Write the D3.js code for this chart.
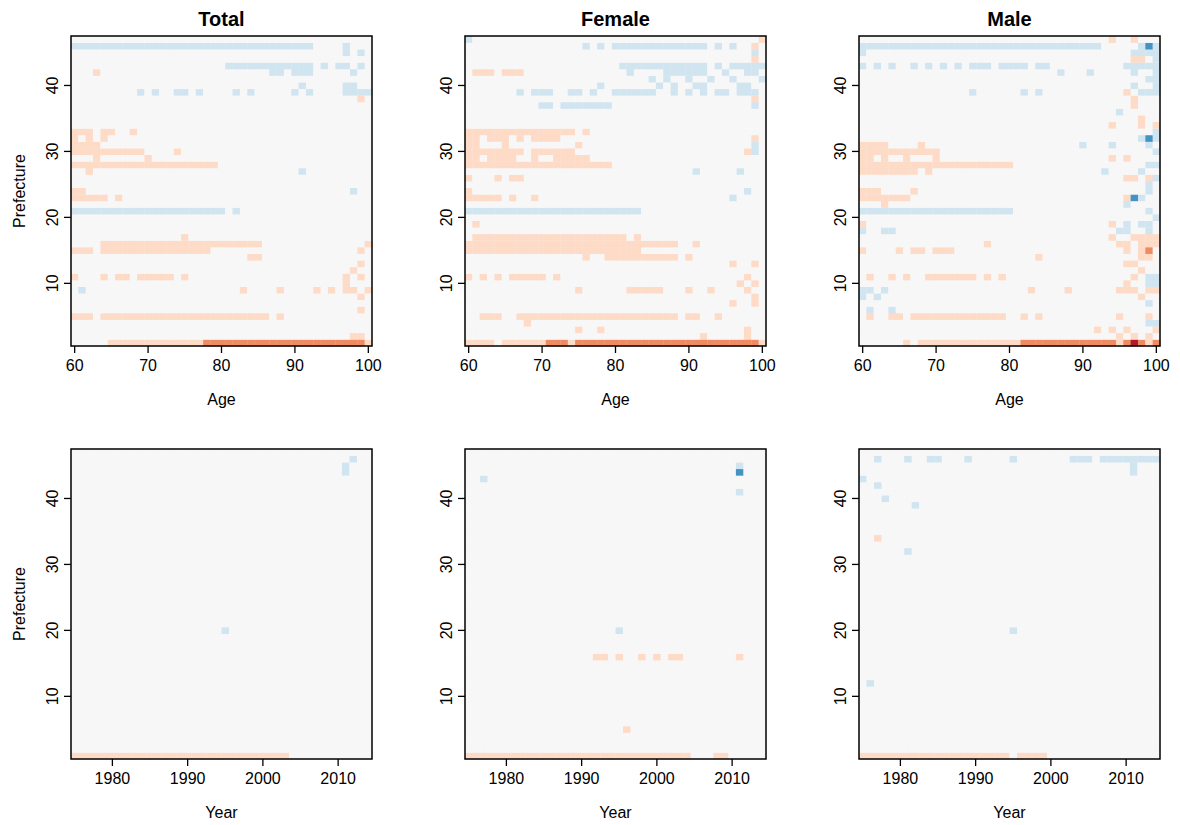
<!DOCTYPE html>
<html>
<head>
<meta charset="utf-8">
<script src="https://cdn.jsdelivr.net/npm/d3@7"></script>
<style>
  body { margin: 0; background: #fff; }
  svg text { font-family: "Liberation Sans", Arial, Helvetica, sans-serif; fill: #000; }
</style>
</head>
<body>
<svg id="chart" width="1180" height="825"></svg>
<script>
// axes values
const ages = d3.range(60, 101);
const years = d3.range(1975, 2015);
const prefectures = d3.range(1, 48);
const ageTicks = [60, 70, 80, 90, 100];
const yearTicks = [1980, 1990, 2000, 2010];
const prefTicks = [10, 20, 30, 40];
const titles = ["Total", "Female", "Male"];

// runs: [prefecture, from, to, level]  level >0 orange/red, <0 blue, 0 neutral
const totalAge = [
  [46,60,92,-1],[46,97,97,-1],[45,97,97,-1],[45,99,99,-1],
  [43,81,92,-1],[43,94,94,-1],[43,96,97,-1],[43,99,99,-1],
  [42,63,63,1],[42,87,88,-1],[42,90,92,-1],[42,98,98,-1],
  [40,91,91,-1],[40,97,98,-1],
  [39,69,69,-1],[39,71,71,-1],[39,74,75,-1],[39,77,77,-1],[39,82,82,-1],[39,84,84,-1],[39,90,90,-1],[39,92,92,-1],[39,97,100,-1],
  [38,99,99,1],
  [33,60,62,1],[33,64,65,1],[33,68,68,1],
  [32,60,60,1],[32,62,62,1],[32,64,64,1],
  [31,60,63,1],
  [30,60,69,1],[30,74,74,1],
  [29,63,63,1],[29,70,70,1],
  [28,60,79,1],
  [27,62,62,1],[27,91,91,-1],
  [24,60,61,1],[24,98,98,-1],
  [23,60,64,1],[23,66,66,1],
  [21,60,80,-1],[21,82,82,-1],
  [17,75,75,1],
  [16,64,85,1],[16,100,100,1],
  [15,60,62,1],[15,64,78,1],[15,99,99,1],
  [14,84,85,1],
  [13,99,99,1],[12,98,98,1],
  [11,60,60,1],[11,64,64,1],[11,66,67,1],[11,69,73,1],[11,75,75,1],[11,97,97,1],[11,99,99,1],
  [10,97,97,1],
  [9,61,61,-1],[9,83,83,1],[9,88,88,1],[9,93,93,1],[9,95,95,1],[9,97,98,1],[9,100,100,1],
  [8,99,99,1],[6,99,99,1],
  [5,60,62,1],[5,64,86,1],[5,88,88,1],
  [2,98,99,1],
  [1,65,77,1],[1,78,99,2],[1,100,100,1]
];

const femaleAge = [
  [47,60,60,-1],[47,100,100,1],
  [46,76,76,-1],[46,78,78,-1],[46,80,92,-1],[46,94,94,-1],[46,96,96,-1],[46,99,99,1],
  [45,99,99,-1],[44,99,99,1],
  [43,81,92,-1],[43,94,94,-1],[43,96,100,-1],
  [42,61,63,1],[42,65,67,1],[42,82,82,-1],[42,87,92,-1],[42,95,95,-1],[42,98,99,-1],
  [41,85,85,-1],[41,87,87,-1],[41,90,90,-1],[41,93,93,-1],[41,96,96,-1],[41,100,100,-1],
  [40,78,78,-1],[40,86,86,-1],[40,88,88,-1],[40,91,92,-1],[40,97,98,-1],
  [39,67,67,-1],[39,69,71,-1],[39,74,75,-1],[39,77,77,-1],[39,80,85,-1],[39,88,88,-1],[39,90,90,-1],[39,92,92,-1],[39,94,95,-1],[39,97,99,-1],
  [38,99,99,1],
  [37,70,71,-1],[37,73,79,-1],[37,99,99,-1],
  [33,60,74,1],[33,76,76,1],
  [32,60,61,1],[32,63,65,1],[32,67,67,1],[32,69,72,1],[32,99,99,1],
  [31,60,61,1],[31,65,65,1],[31,75,75,1],[31,99,99,-1],
  [30,60,67,1],[30,69,74,1],[30,98,98,1],[30,99,99,-1],
  [29,60,61,1],[29,63,66,1],[29,69,69,1],[29,72,76,1],
  [28,60,79,1],
  [27,91,91,-1],[27,97,97,-1],
  [26,60,60,1],[26,64,64,1],[26,66,67,1],
  [24,60,60,1],[24,98,98,-1],
  [23,60,64,1],[23,66,66,1],[23,69,69,1],[23,96,96,-1],
  [21,60,83,-1],
  [19,61,61,1],
  [17,61,81,1],[17,83,83,1],
  [16,60,88,1],[16,91,91,1],
  [15,60,83,1],
  [14,76,76,1],[14,79,88,1],[14,90,90,1],
  [13,96,96,1],[13,99,99,1],
  [11,60,60,1],[11,62,62,1],[11,64,64,1],[11,66,70,1],[11,72,72,1],[11,98,98,1],
  [10,97,97,1],[10,99,99,1],
  [9,75,75,1],[9,82,86,1],[9,90,90,1],[9,93,93,1],[9,98,98,1],
  [8,99,99,1],
  [7,96,96,1],[7,99,99,1],
  [5,62,64,1],[5,67,88,1],[5,90,91,1],[5,94,94,1],
  [4,68,68,1],
  [3,75,75,1],[3,78,78,1],[3,98,98,1],
  [2,92,92,1],[2,98,98,1],
  [1,60,63,1],[1,65,70,1],[1,71,73,2],[1,74,74,1],[1,75,99,2],[1,100,100,1]
];

const maleAge = [
  [47,94,94,1],[47,97,97,1],
  [46,60,92,-1],[46,98,98,-1],[46,99,99,-2],[46,100,100,-1],
  [45,60,60,-1],[45,97,100,-1],
  [44,97,98,1],[44,100,100,-1],
  [43,60,60,-1],[43,62,62,-1],[43,64,64,-1],[43,67,67,-1],[43,69,69,-1],[43,71,71,-1],[43,73,73,-1],[43,75,77,-1],[43,79,82,-1],[43,84,85,-1],[43,96,100,-1],
  [42,87,87,-1],[42,91,91,-1],[42,97,97,-1],[42,100,100,-1],
  [41,99,100,-1],
  [40,97,97,-1],[40,100,100,-1],
  [39,75,75,-1],[39,82,82,-1],[39,84,84,-1],[39,96,96,1],[39,98,100,-1],
  [38,97,97,1],[37,97,97,1],
  [36,95,95,-1],
  [35,98,98,1],
  [34,94,94,1],[34,98,98,1],[34,100,100,1],
  [33,100,100,-1],
  [32,98,98,-1],[32,99,99,-2],[32,100,100,-1],
  [31,60,63,1],[31,68,68,1],[31,90,90,-1],[31,94,94,-1],[31,99,99,-1],
  [30,60,70,1],[30,100,100,-1],
  [29,60,61,1],[29,63,63,1],[29,66,66,1],[29,70,70,1],[29,94,94,1],[29,96,96,1],
  [28,60,80,1],[28,99,100,-1],
  [27,60,67,1],[27,69,69,1],[27,93,93,-1],[27,98,98,-1],
  [26,96,97,1],[26,99,99,1],[26,100,100,-1],
  [25,99,99,-1],
  [24,60,62,1],[24,67,67,1],[24,99,99,-1],
  [23,60,66,1],[23,96,96,1],[23,97,97,-2],[23,98,98,-1],
  [22,63,63,1],[22,96,96,-1],
  [21,60,80,-1],[21,99,99,-1],
  [20,100,100,-1],
  [19,60,60,1],[19,94,94,1],[19,96,96,-1],[19,98,99,-1],
  [18,60,60,-1],[18,63,64,-1],[18,95,96,-1],[18,99,99,-1],
  [17,94,94,1],[17,97,99,1],[17,100,100,1],
  [16,77,77,1],[16,95,96,1],[16,98,100,1],
  [15,60,60,1],[15,65,65,1],[15,67,68,1],[15,70,72,1],[15,96,96,1],[15,98,98,1],[15,99,99,2],
  [14,84,84,1],[14,98,99,1],
  [13,96,97,1],[12,98,98,1],
  [11,61,61,1],[11,64,64,1],[11,66,66,1],[11,69,75,1],[11,77,77,1],[11,79,79,1],[11,97,97,1],[11,99,100,-1],
  [10,96,96,1],[10,99,100,-1],
  [9,60,61,-1],[9,63,63,-1],[9,83,83,1],[9,88,88,1],[9,95,97,1],[9,99,100,1],
  [8,60,60,-1],[8,62,62,-1],[8,98,98,1],
  [7,99,99,-1],
  [6,61,61,-1],[6,64,64,-1],
  [5,61,61,1],[5,64,65,1],[5,67,79,1],[5,82,82,1],[5,84,84,1],[5,95,95,1],[5,99,99,1],
  [4,99,100,-1],
  [3,92,92,1],[3,94,94,1],[3,96,96,1],[3,100,100,1],
  [2,95,95,1],[2,97,97,1],[2,99,99,1],
  [1,66,66,1],[1,68,81,1],[1,82,94,2],[1,95,95,1],[1,96,96,2],[1,97,97,3],[1,98,98,2],[1,99,99,1],[1,100,100,2]
];

const totalYear = [
  [46,2012,2012,-1],[45,2011,2011,-1],[44,2011,2011,-1],[20,1995,1995,-1],[1,1975,2003,1]
];
const femaleYear = [
  [45,2011,2011,-1],[44,2011,2011,-2],[43,1977,1977,-1],[41,2011,2011,-1],[20,1995,1995,-1],
  [16,1992,1993,1],[16,1995,1995,1],[16,1998,1998,1],[16,2000,2000,1],[16,2002,2003,1],[16,2011,2011,1],
  [5,1996,1996,1],[1,1975,2004,1],[1,2008,2009,1]
];
const maleYear = [
  [46,1977,1977,-1],[46,1981,1981,-1],[46,1984,1985,-1],[46,1989,1989,-1],[46,1995,1995,-1],[46,2003,2005,-1],[46,2007,2014,-1],
  [45,2011,2011,-1],[44,2011,2011,-1],[43,1975,1975,-1],[42,1977,1977,-1],[40,1978,1978,-1],[39,1982,1982,-1],
  [34,1977,1977,1],[32,1981,1981,-1],[20,1995,1995,-1],[12,1976,1976,-1],[1,1975,1994,1],[1,1996,1999,1]
];

const levels = [-2, -1, 0, 1, 2, 3];
const levelColors = ["#4393C3", "#D1E5F0", "#F7F7F7", "#FDDBC7", "#EF8A62", "#B2182B"];
const color = d3.scaleOrdinal().domain(levels).range(levelColors);

const svg = d3.select("#chart");
const W = 301, H = 310;
const lefts = [71, 465, 859];
const tops = [36, 449];

const panels = [
  {runs: totalAge, xs: ages, ticks: ageTicks, xlab: "Age", row: 0, col: 0},
  {runs: femaleAge, xs: ages, ticks: ageTicks, xlab: "Age", row: 0, col: 1},
  {runs: maleAge, xs: ages, ticks: ageTicks, xlab: "Age", row: 0, col: 2},
  {runs: totalYear, xs: years, ticks: yearTicks, xlab: "Year", row: 1, col: 0},
  {runs: femaleYear, xs: years, ticks: yearTicks, xlab: "Year", row: 1, col: 1},
  {runs: maleYear, xs: years, ticks: yearTicks, xlab: "Year", row: 1, col: 2}
];

function expand(runs, xs) {
  const m = new Map();
  runs.forEach(([p, a, b, v]) => {
    for (let k = a; k <= b; k++) m.set(p + "_" + k, v);
  });
  const cells = [];
  prefectures.forEach(p => xs.forEach(k => {
    cells.push({p: p, k: k, v: m.get(p + "_" + k) || 0});
  }));
  return cells;
}

panels.forEach(function(pn) {
  const x0 = lefts[pn.col], y0 = tops[pn.row];
  const g = svg.append("g").attr("transform", "translate(" + x0 + "," + y0 + ")");

  const x = d3.scaleBand().domain(pn.xs).range([0, W]);
  const y = d3.scaleBand().domain(prefectures.slice().reverse()).range([0, H]);

  g.append("g")
    .selectAll("rect")
    .data(expand(pn.runs, pn.xs))
    .join("rect")
      .attr("x", d => x(d.k))
      .attr("y", d => y(d.p))
      .attr("width", x.bandwidth() + 0.3)
      .attr("height", y.bandwidth() + 0.3)
      .attr("fill", d => color(d.v));

  g.append("rect")
    .attr("width", W).attr("height", H)
    .attr("fill", "none").attr("stroke", "#000").attr("stroke-width", 1.5);

  const xAxis = g.append("g")
    .attr("transform", "translate(0," + H + ")")
    .call(d3.axisBottom(x).tickValues(pn.ticks).tickSize(7).tickPadding(7));
  xAxis.select(".domain").remove();
  xAxis.selectAll("line").attr("stroke", "#000").attr("stroke-width", 1.3);
  xAxis.selectAll("text").attr("font-size", 16).attr("fill", "#000")
    .style("font-family", "'Liberation Sans', Arial, sans-serif");

  const yAxis = g.append("g")
    .call(d3.axisLeft(y).tickValues(prefTicks).tickSize(7));
  yAxis.select(".domain").remove();
  yAxis.selectAll("line").attr("stroke", "#000").attr("stroke-width", 1.3);
  yAxis.selectAll("text")
    .attr("x", null).attr("dy", null)
    .attr("text-anchor", "middle")
    .attr("transform", "translate(-13,0) rotate(-90)")
    .attr("font-size", 16).attr("fill", "#000")
    .style("font-family", "'Liberation Sans', Arial, sans-serif");

  g.append("text")
    .attr("x", W / 2).attr("y", H + 59)
    .attr("text-anchor", "middle")
    .attr("font-size", 16)
    .text(pn.xlab);

  if (pn.row === 0) {
    g.append("text")
      .attr("x", W / 2).attr("y", -10)
      .attr("text-anchor", "middle")
      .attr("font-size", 20).attr("font-weight", "bold")
      .text(titles[pn.col]);
  }
  if (pn.col === 0) {
    g.append("text")
      .attr("transform", "translate(-46," + (H / 2) + ") rotate(-90)")
      .attr("text-anchor", "middle")
      .attr("font-size", 16)
      .text("Prefecture");
  }
});
</script>
</body>
</html>
